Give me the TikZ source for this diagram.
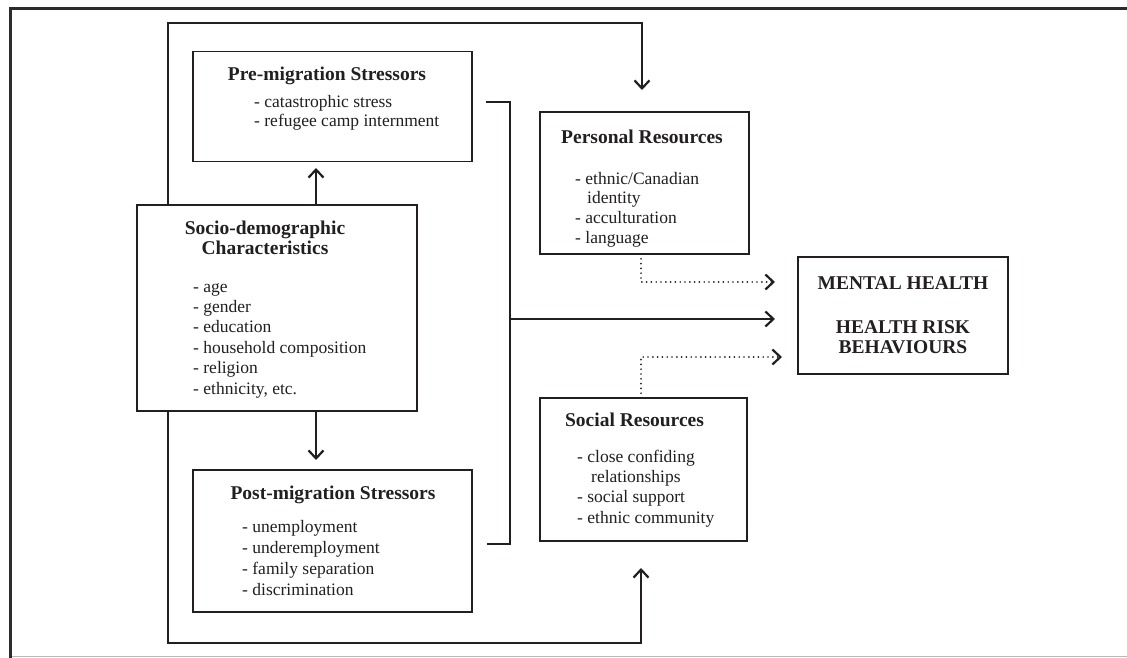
\documentclass[tikz,border=0pt]{standalone}
\usepackage{fontspec}
\setmainfont{Liberation Serif}
\usetikzlibrary{arrows.meta}
\definecolor{ink}{HTML}{231F20}
\tikzset{
  box/.style={draw=ink, line width=1.9pt, fill=white, rectangle, inner sep=0pt, outer sep=0pt},
  ttl/.style={font=\fontsize{19.5}{23}\selectfont\bfseries, anchor=base, inner sep=0pt, text=ink},
  itm/.style={font=\fontsize{17.5}{20.5}\selectfont, anchor=base west, inner sep=0pt, text=ink},
  conn/.style={draw=ink, line width=1.6pt},
  arr/.style={conn, -{Straight Barb[length=8pt,width=15pt,line width=2.2pt]}},
  dotarr/.style={draw=ink, line width=1.9pt, line cap=round, dash pattern=on 0pt off 4.8pt, -{Straight Barb[length=8pt,width=15pt,line width=2.2pt]}}
}
\begin{document}
\begin{tikzpicture}[x=1pt,y=-1pt]
\useasboundingbox (0,0) rectangle (1127,658);
% frame
\draw[draw=gray!55, line width=1pt] (10,656.5) -- (1127,656.5);
\draw[draw=ink!95, line width=3pt] (1127,8.5) -- (10.5,8.5) -- (10.5,658);

% boxes
\node[box, minimum width=279pt, minimum height=110pt] (pre) at (332.5,106.5) {};
\node[box, minimum width=280pt, minimum height=206pt] (socio) at (277,308) {};
\node[box, minimum width=279pt, minimum height=142pt] (post) at (332.5,541) {};
\node[box, minimum width=209pt, minimum height=142pt] (pers) at (644.5,183) {};
\node[box, minimum width=207pt, minimum height=143pt] (soc) at (643.5,469.5) {};
\node[box, minimum width=210pt, minimum height=117pt] (out) at (903,315.5) {};

% coordinates for connectors
\coordinate (lt) at (168,205);
\coordinate (lb) at (168,411);
\coordinate (top) at (642,23);
\coordinate (topend) at (642,90);
\coordinate (bot) at (641,643);
\coordinate (botend) at (641,568);
\coordinate (preend) at (316,168);
\coordinate (postend) at (316,460);
\coordinate (br1) at (486,102);
\coordinate (br2) at (510,102);
\coordinate (br3) at (510,544);
\coordinate (br4) at (487,544);
\coordinate (mainst) at (510,319);
\coordinate (mainend) at (775,319);
\coordinate (pd) at (641,282);
\coordinate (pdend) at (775,282);
\coordinate (sd) at (641,357);
\coordinate (sdend) at (782,357);

% connectors
\draw[arr] (socio.north -| preend) -- (preend);
\draw[arr] (socio.south -| postend) -- (postend);
\draw[arr] (socio.north -| lt) -- (lt |- top) -- (top) -- (topend);
\draw[arr] (socio.south -| lb) -- (lb |- bot) -- (bot) -- (botend);
\draw[conn] (br1) -- (br2) -- (br3) -- (br4);
\draw[arr] (mainst) -- (mainend);
\draw[dotarr] (pers.south -| pd) -- (pd) -- (pdend);
\draw[dotarr] (soc.north -| sd) -- (sd) -- (sdend);

% texts: pre-migration
\node[ttl] (preT) at (327,81) {Pre-migration Stressors};
\node[itm] (pre1) at (254,108) {- catastrophic stress};
\node[itm] (pre2) at (254,127) {- refugee camp internment};

% socio-demographic
\node[ttl] (socT1) at (265,234) {Socio-demographic};
\node[ttl] (socT2) at (265,254) {Characteristics};
\node[itm] (so1) at (193,292) {- age};
\node[itm] (so2) at (193,312) {- gender};
\node[itm] (so3) at (193,332) {- education};
\node[itm] (so4) at (193,353) {- household composition};
\node[itm] (so5) at (193,373) {- religion};
\node[itm] (so6) at (193,394) {- ethnicity, etc.};

% post-migration
\node[ttl] (postT) at (333,499.5) {Post-migration Stressors};
\node[itm] (po1) at (242,532) {- unemployment};
\node[itm] (po2) at (242,553) {- underemployment};
\node[itm] (po3) at (242,574) {- family separation};
\node[itm] (po4) at (242,595) {- discrimination};

% personal resources
\node[ttl] (persT) at (642,143.5) {Personal Resources};
\node[itm] (pe1) at (575,184) {- ethnic/Canadian};
\node[itm] (pe2) at (587,203) {identity};
\node[itm] (pe3) at (575,223) {- acculturation};
\node[itm] (pe4) at (575,243) {- language};

% social resources
\node[ttl] (socrT) at (634.5,426.5) {Social Resources};
\node[itm] (sr1) at (577,462) {- close confiding};
\node[itm] (sr2) at (591,482) {relationships};
\node[itm] (sr3) at (577,502) {- social support};
\node[itm] (sr4) at (577,523) {- ethnic community};

% outcomes
\node[ttl] (o1) at (903,289.5) {MENTAL HEALTH};
\node[ttl] (o2) at (903,333.5) {HEALTH RISK};
\node[ttl] (o3) at (903,353.5) {BEHAVIOURS};
\end{tikzpicture}
\end{document}
